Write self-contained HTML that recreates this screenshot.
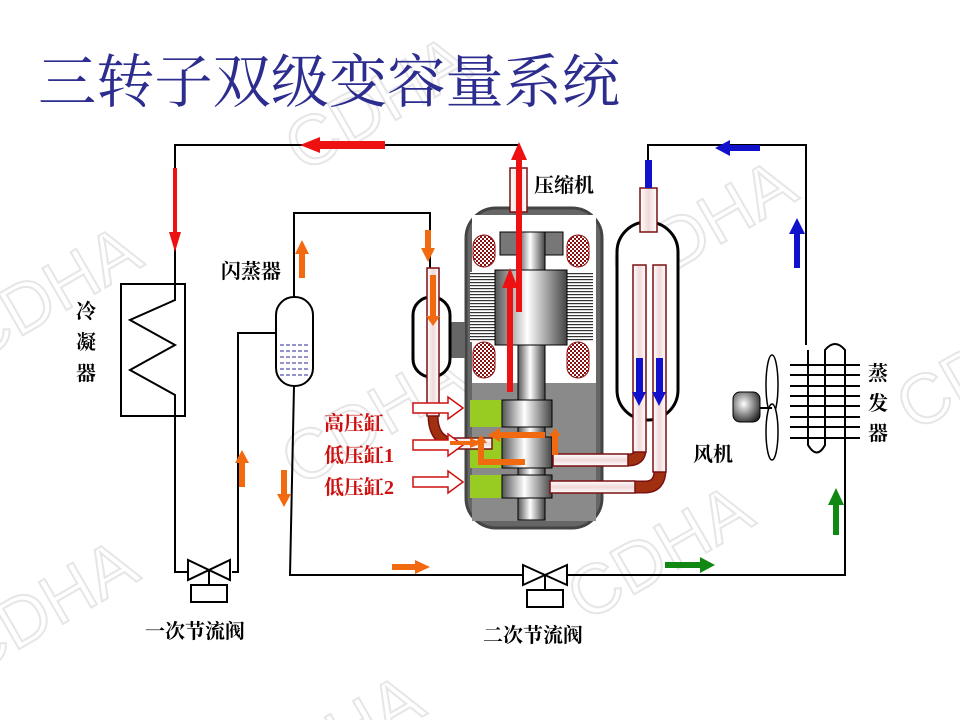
<!DOCTYPE html>
<html><head><meta charset="utf-8"><style>
html,body{margin:0;padding:0;background:#fff;width:960px;height:720px;overflow:hidden;}
svg{display:block;}
.t{font-family:"Liberation Serif","Noto Serif CJK SC",serif;}
</style></head><body>
<svg width="960" height="720" viewBox="0 0 960 720" xmlns="http://www.w3.org/2000/svg">
<defs>
<pattern id="chk" width="4" height="4" patternUnits="userSpaceOnUse"><rect width="4" height="4" fill="#fff"/><rect width="2" height="2" fill="#8a1010"/><rect x="2" y="2" width="2" height="2" fill="#8a1010"/></pattern>
<pattern id="hat" width="4" height="3" patternUnits="userSpaceOnUse"><rect width="4" height="3" fill="#fff"/><rect width="4" height="1.2" fill="#333"/></pattern>
<linearGradient id="cyl" x1="0" x2="1"><stop offset="0" stop-color="#555"/><stop offset="0.45" stop-color="#fff"/><stop offset="1" stop-color="#444"/></linearGradient>
<linearGradient id="pipeV" x1="0" x2="1"><stop offset="0" stop-color="#fff"/><stop offset="0.5" stop-color="#f0d8d8"/><stop offset="1" stop-color="#fff"/></linearGradient>
<linearGradient id="pipeH" x1="0" x2="0" y1="0" y2="1"><stop offset="0" stop-color="#fff"/><stop offset="0.5" stop-color="#f0d8d8"/><stop offset="1" stop-color="#fff"/></linearGradient>
<radialGradient id="mot" cx="0.4" cy="0.4" r="0.7"><stop offset="0" stop-color="#fff"/><stop offset="1" stop-color="#222"/></radialGradient>
</defs>

<g font-family="Liberation Sans,sans-serif" font-size="70" fill="none" stroke="#e6e6e6" stroke-width="2" transform="rotate(-30 480 360)">
<text x="40" y="110">CDHA</text><text x="420" y="110">CDHA</text><text x="800" y="110">CDHA</text>
<text x="-120" y="380">CDHA</text><text x="260" y="380">CDHA</text><text x="640" y="380">CDHA</text>
<text x="60" y="640">CDHA</text><text x="440" y="640">CDHA</text><text x="820" y="640">CDHA</text>
</g>

<text class="t" x="38" y="102" font-size="58" fill="#2d2d8f" textLength="582" lengthAdjust="spacingAndGlyphs">三转子双级变容量系统</text>

<g fill="none" stroke="#000" stroke-width="2">
<polyline points="519,145 175,145 175,285"/>
<polyline points="175,416 175,572 190,572"/>
<polyline points="232,572 238,572 238,333 278,333"/>
<polyline points="294,297 294,213 430,213 430,268"/>
<polyline points="294,386 290,575 845,575 845,455"/>
<polyline points="648,160 648,145 806,145 806,345"/>
<rect x="121" y="284" width="64" height="132"/>
<polyline points="175,284 175,300 130,320 175,345 130,370 175,395 175,416"/>
<path d="M845,455 L845,350 Q835,338 825,350 L825,445 Q817,460 808,445 L808,350"/>
</g>
<g stroke="#000" stroke-width="2">
<line x1="790" y1="365" x2="860" y2="365"/><line x1="790" y1="375" x2="860" y2="375"/>
<line x1="790" y1="386" x2="860" y2="386"/><line x1="790" y1="396" x2="860" y2="396"/>
<line x1="790" y1="406" x2="860" y2="406"/><line x1="790" y1="417" x2="860" y2="417"/>
<line x1="790" y1="427" x2="860" y2="427"/><line x1="790" y1="438" x2="860" y2="438"/>
</g>
<ellipse cx="772" cy="385" rx="6" ry="30" fill="#fff" stroke="#000" stroke-width="1.5"/>
<ellipse cx="772" cy="432" rx="6" ry="28" fill="#fff" stroke="#000" stroke-width="1.5"/>
<line x1="758" y1="408" x2="772" y2="408" stroke="#000" stroke-width="2"/>
<rect x="733" y="392" width="27" height="30" rx="7" fill="url(#mot)" stroke="#000"/>

<rect x="276" y="297" width="37" height="89" rx="18" fill="#fff" stroke="#000" stroke-width="2"/>
<g stroke="#2a2a90" stroke-width="1" stroke-dasharray="4,2">
<line x1="280" y1="345" x2="310" y2="345"/><line x1="280" y1="351" x2="310" y2="351"/>
<line x1="280" y1="357" x2="310" y2="357"/><line x1="280" y1="363" x2="310" y2="363"/>
<line x1="280" y1="369" x2="310" y2="369"/><line x1="280" y1="375" x2="310" y2="375"/>
</g>

<g fill="#fff" stroke="#000" stroke-width="2">
<polygon points="188,560 188,580 230,560 230,580"/>
<line x1="209" y1="570" x2="209" y2="585"/><rect x="191" y="585" width="36" height="17"/>
<polygon points="523,565 523,585 567,565 567,585"/>
<line x1="545" y1="575" x2="545" y2="590"/><rect x="527" y="590" width="36" height="17"/>
</g>

<rect x="466" y="208" width="136" height="320" rx="30" fill="#666" stroke="#444" stroke-width="3"/>
<rect x="472" y="215" width="124" height="168" fill="#fff"/>
<rect x="472" y="383" width="124" height="138" fill="#8a8a8a"/>
<rect x="470" y="272" width="123" height="70" fill="url(#hat)"/>
<rect x="473" y="235" width="22" height="32" rx="11" fill="url(#chk)" stroke="#8a1010"/>
<rect x="567" y="235" width="22" height="32" rx="11" fill="url(#chk)" stroke="#8a1010"/>
<rect x="473" y="342" width="22" height="36" rx="11" fill="url(#chk)" stroke="#8a1010"/>
<rect x="567" y="342" width="22" height="36" rx="11" fill="url(#chk)" stroke="#8a1010"/>
<rect x="500" y="232" width="63" height="23" fill="#777" stroke="#000"/>
<rect x="518" y="232" width="27" height="288" fill="url(#cyl)" stroke="#000"/>
<rect x="495" y="270" width="72" height="75" fill="url(#cyl)" stroke="#000"/>
<rect x="470" y="400" width="32" height="27" fill="#99cc22"/>
<rect x="470" y="437" width="32" height="31" fill="#99cc22"/>
<rect x="470" y="475" width="32" height="23" fill="#99cc22"/>
<rect x="502" y="400" width="50" height="27" fill="url(#cyl)" stroke="#000"/>
<rect x="502" y="437" width="50" height="31" fill="url(#cyl)" stroke="#000"/>
<rect x="502" y="475" width="50" height="23" fill="url(#cyl)" stroke="#000"/>
<rect x="510" y="168" width="17" height="44" fill="url(#pipeV)" stroke="#7a1010" stroke-width="1.5"/>

<rect x="450" y="322" width="15" height="36" fill="#666"/>
<rect x="413" y="297" width="37" height="80" rx="18" fill="#fff" stroke="#000" stroke-width="3"/>
<path d="M433,415 Q433,440 452,443 L470,443" fill="none" stroke="#7a1010" stroke-width="11"/>
<path d="M433,415 Q433,440 452,443 L470,443" fill="none" stroke="#a03010" stroke-width="8"/>
<rect x="427" y="268" width="12" height="148" fill="url(#pipeV)" stroke="#7a1010" stroke-width="1.5"/>
<rect x="447" y="438" width="45" height="11" fill="url(#pipeH)" stroke="#7a1010" stroke-width="1.5"/>

<rect x="617" y="222" width="61" height="198" rx="30" fill="#fff" stroke="#000" stroke-width="3"/>
<rect x="640" y="188" width="17" height="44" fill="url(#pipeV)" stroke="#7a1010" stroke-width="1.5"/>
<path d="M640,450 Q640,460 628,460 L555,460" fill="none" stroke="#7a1010" stroke-width="13"/>
<path d="M640,450 Q640,460 628,460 L615,460" fill="none" stroke="#a03010" stroke-width="10"/>
<rect x="553" y="454" width="75" height="12" fill="url(#pipeH)" stroke="#7a1010" stroke-width="1.5"/>
<rect x="633" y="265" width="13" height="187" fill="url(#pipeV)" stroke="#7a1010" stroke-width="1.5"/>
<path d="M660,470 Q660,487 645,487 L630,487" fill="none" stroke="#7a1010" stroke-width="13"/>
<path d="M660,470 Q660,487 645,487 L630,487" fill="none" stroke="#a03010" stroke-width="10"/>
<rect x="550" y="481" width="85" height="12" fill="url(#pipeH)" stroke="#7a1010" stroke-width="1.5"/>
<rect x="653" y="265" width="13" height="207" fill="url(#pipeV)" stroke="#7a1010" stroke-width="1.5"/>

<g fill="#fff" stroke="#cc1010" stroke-width="1.5">
<polygon points="413,403 448,403 448,397 463,408 448,419 448,413 413,413"/>
<polygon points="413,440 448,440 448,434 463,445 448,456 448,450 413,450"/>
<polygon points="413,477 448,477 448,471 463,482 448,493 448,487 413,487"/>
</g>

<g fill="#ee1111">
<polygon points="516,312 516,160 511,160 519,142 527,160 522,160 522,312"/>
<polygon points="507,392 507,288 502,288 510,268 518,288 513,288 513,392"/>
<polygon points="385,141 320,141 320,137 300,145 320,153 320,149 385,149"/>
<polygon points="173,168 173,232 169,232 175,252 181,232 177,232 177,168"/>
</g>
<g fill="#f26a10">
<polygon points="299,278 299,254 295,254 302,240 309,254 305,254 305,278"/>
<polygon points="425,230 425,248 421,248 428,262 435,248 431,248 431,230"/>
<polygon points="430,275 430,316 426,316 433,326 440,316 436,316 436,275"/>
<polygon points="239,487 239,463 235,463 242,450 249,463 245,463 245,487"/>
<polygon points="281,470 281,494 277,494 284,507 291,494 287,494 287,470"/>
<polygon points="392,564 415,564 415,560 430,567 415,574 415,570 392,570"/>
<polygon points="450,441 470,441 470,438 482,443 470,448 470,445 450,445"/>
<polygon points="478,465 478,443 475,443 481,435 487,443 484,443 484,459 525,459 525,465"/>
<polygon points="500,432 545,432 545,438 500,438 500,442 488,435 500,428"/>
<polygon points="552,455 552,436 549,436 555,428 561,436 558,436 558,455"/>
</g>
<g fill="#118811">
<polygon points="665,562 700,562 700,557 715,565 700,573 700,568 665,568"/>
<polygon points="833,535 833,505 828,505 836,488 844,505 839,505 839,535"/>
</g>
<g fill="#1111cc">
<polygon points="794,268 794,234 789,234 797,218 805,234 800,234 800,268"/>
<polygon points="760,145 730,145 730,140 715,148 730,156 730,151 760,151"/>
<rect x="645" y="160" width="7" height="28"/>
<polygon points="636,358 636,392 632,392 639,406 646,392 643,392 643,358"/>
<polygon points="656,358 656,392 652,392 659,406 666,392 663,392 663,358"/>
</g>

<g class="t" fill="#000" font-size="20" font-weight="bold">
<text x="534" y="192">压缩机</text>
<text x="221" y="278">闪蒸器</text>
<text x="693" y="461">风机</text>
<text x="145" y="638">一次节流阀</text>
<text x="483" y="642">二次节流阀</text>
<text x="76" y="318">冷</text><text x="76" y="349">凝</text><text x="76" y="380">器</text>
<text x="868" y="380">蒸</text><text x="868" y="410">发</text><text x="868" y="440">器</text>
</g>
<g class="t" fill="#d01010" font-size="20" font-weight="bold">
<text x="324" y="430">高压缸</text>
<text x="324" y="462">低压缸1</text>
<text x="324" y="494">低压缸2</text>
</g>
</svg>
</body></html>
